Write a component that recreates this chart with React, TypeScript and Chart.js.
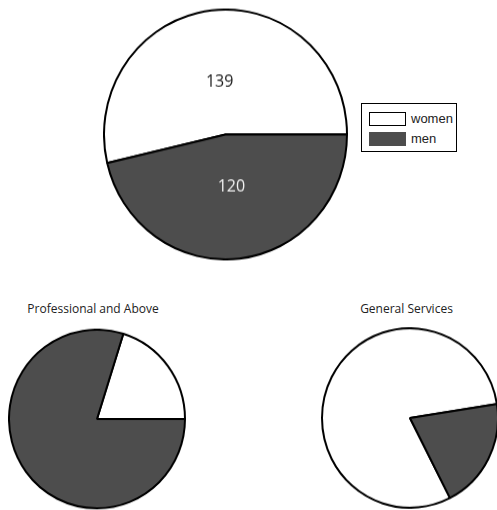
import React, { useEffect, useRef } from 'react';
import { Chart, registerables } from 'chart.js';

Chart.register(...registerables);

const categories = ['women', 'men'];
const totalValues = [139, 120];
const professionalValues = [23, 91];
const generalServicesValues = [116, 29];
const panelTitles = ['Professional and Above', 'General Services'];
const sliceColors = ['#ffffff', '#4d4d4d'];
const labelColors = ['#1a1a1a', '#f2f2f2'];

const valueLabelPlugin = {
  id: 'valueLabels',
  afterDatasetsDraw(chart: any, _args: any, opts: any) {
    if (!opts || !opts.show) return;
    const ctx = chart.ctx;
    const meta = chart.getDatasetMeta(0);
    const data = chart.data.datasets[0].data;
    ctx.save();
    ctx.font = '16px "Open Sans"';
    ctx.textAlign = 'center';
    ctx.textBaseline = 'middle';
    meta.data.forEach((arc: any, i: number) => {
      const p = arc.getProps(['x', 'y', 'startAngle', 'endAngle', 'outerRadius'], true);
      const mid = (p.startAngle + p.endAngle) / 2;
      const d = p.outerRadius * 0.42;
      ctx.fillStyle = labelColors[i];
      ctx.fillText(String(data[i]), p.x + Math.cos(mid) * d, p.y + Math.sin(mid) * d);
    });
    ctx.restore();
  },
};

type PieProps = {
  values: number[];
  rotation: number;
  showLabels: boolean;
  left: number;
  top: number;
  size: number;
  stretch: number;
};

function Pie({ values, rotation, showLabels, left, top, size, stretch }: PieProps) {
  const ref = useRef<HTMLCanvasElement | null>(null);
  useEffect(() => {
    if (!ref.current) return;
    const chart = new Chart(ref.current, {
      type: 'pie',
      data: {
        labels: categories,
        datasets: [
          {
            data: values,
            backgroundColor: sliceColors,
            borderColor: '#000000',
            borderWidth: 2,
          },
        ],
      },
      options: {
        responsive: true,
        maintainAspectRatio: false,
        animation: false,
        rotation,
        events: [],
        layout: { padding: 0 },
        plugins: {
          legend: { display: false },
          tooltip: { enabled: false },
          valueLabels: { show: showLabels },
        } as any,
      },
      plugins: [valueLabelPlugin],
    });
    return () => chart.destroy();
  }, []);
  return (
    <div
      style={{
        position: 'absolute',
        left,
        top,
        width: size,
        height: size,
        transform: `scale(1, ${stretch})`,
        transformOrigin: '50% 50%',
      }}
    >
      <canvas ref={ref} />
    </div>
  );
}

export default function App() {
  const titleStyle: React.CSSProperties = {
    position: 'absolute',
    width: 200,
    textAlign: 'center',
    fontFamily: '"Open Sans", sans-serif',
    fontSize: 12,
    lineHeight: '16px',
    color: '#222',
  };
  return (
    <div
      style={{
        position: 'absolute',
        left: 0,
        top: 0,
        width: 497,
        height: 510,
        overflow: 'hidden',
        background: '#fff',
      }}
    >
      <Pie values={totalValues} rotation={-103.2} showLabels={true} left={103} top={12} size={245} stretch={1.028} />
      <div
        style={{
          position: 'absolute',
          left: 361,
          top: 103,
          width: 96,
          height: 49,
          border: '1px solid #000',
          boxSizing: 'border-box',
          fontFamily: '"Liberation Sans", Arial, sans-serif',
          fontSize: 13,
          color: '#222',
        }}
      >
        {categories.map((c, i) => (
          <div key={c} style={{ position: 'absolute', left: 7, top: 8 + i * 20, height: 14, display: 'flex', alignItems: 'center' }}>
            <div
              style={{
                width: 37,
                height: 14,
                boxSizing: 'border-box',
                background: sliceColors[i],
                border: `1px solid ${i === 0 ? '#000' : sliceColors[i]}`,
              }}
            />
            <span style={{ marginLeft: 5, lineHeight: '14px' }}>{c}</span>
          </div>
        ))}
      </div>

      <div style={{ ...titleStyle, left: 93 - 100, top: 301 }}>{panelTitles[0]}</div>
      <Pie values={professionalValues} rotation={17.4} showLabels={false} left={7.5} top={330} size={178} stretch={1.015} />

      <div style={{ ...titleStyle, left: 406.5 - 100, top: 301 }}>{panelTitles[1]}</div>
      <Pie values={generalServicesValues} rotation={153} showLabels={false} left={321} top={329} size={178} stretch={1.02} />
    </div>
  );
}
